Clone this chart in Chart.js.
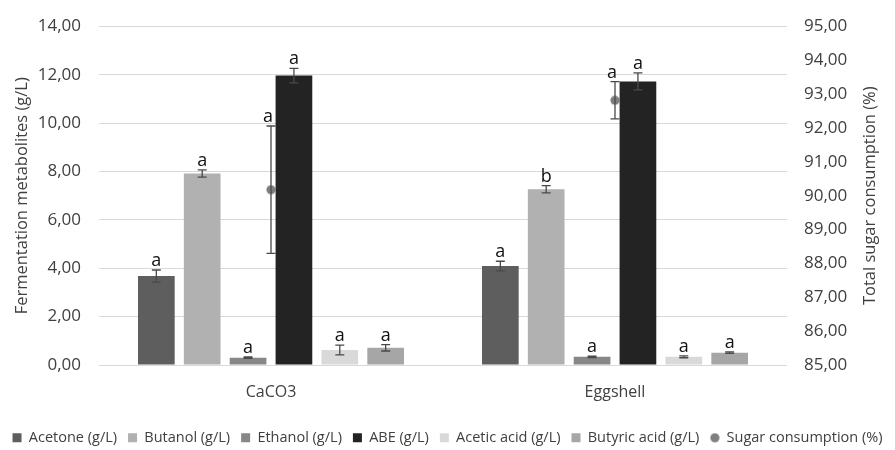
<!DOCTYPE html>
<html>
<head>
<meta charset="utf-8">
<script src="https://cdn.jsdelivr.net/npm/chart.js@4"></script>
<style>
html,body{margin:0;padding:0;background:#fff;}
#wrap{width:895px;height:450px;}
</style>
</head>
<body>
<div id="wrap"><canvas id="c" width="895" height="450"></canvas></div>
<script>
const categories = ['CaCO3', 'Eggshell'];
const acetone = [3.68, 4.09];
const acetoneErr = [0.25, 0.20];
const butanol = [7.92, 7.27];
const butanolErr = [0.15, 0.15];
const ethanol = [0.30, 0.34];
const ethanolErr = [0.03, 0.03];
const abe = [11.97, 11.73];
const abeErr = [0.30, 0.35];
const acetic = [0.62, 0.34];
const aceticErr = [0.20, 0.04];
const butyric = [0.71, 0.51];
const butyricErr = [0.13, 0.03];
const sugar = [90.18, 92.82];
const sugarErr = [1.88, 0.55];
const leftTicks = [0, 2, 4, 6, 8, 10, 12, 14];
const rightTicks = [85, 86, 87, 88, 89, 90, 91, 92, 93, 94, 95];
const acetoneLetters = ['a', 'a'];
const butanolLetters = ['a', 'b'];
const ethanolLetters = ['a', 'a'];
const abeLetters = ['a', 'a'];
const aceticLetters = ['a', 'a'];
const butyricLetters = ['a', 'a'];
const sugarLetters = ['a', 'a'];
const rightTitle = 'Total sugar consumption (%)';

const FONT = 'Open Sans';
const TXT = '#404040';

// point image for sugar consumption
const dot = document.createElement('canvas');
dot.width = 10; dot.height = 10;
(function(){const g = dot.getContext('2d'); g.fillStyle = '#7f7f7f'; g.beginPath(); g.arc(5,5,4.6,0,Math.PI*2); g.fill();})();

function fmt(v){ return Number(v).toFixed(2).replace('.', ','); }

const errPlugin = {
  id: 'errLetters',
  afterDatasetsDraw(chart) {
    const ctx = chart.ctx;
    ctx.save();
    chart.data.datasets.forEach((ds, i) => {
      const meta = chart.getDatasetMeta(i);
      const scale = chart.scales[ds.yAxisID || 'y'];
      meta.data.forEach((el, j) => {
        const v = ds.data[j], e = ds.errors[j];
        const x = el.x;
        const yT = scale.getPixelForValue(v + e);
        const yB = scale.getPixelForValue(v - e);
        ctx.strokeStyle = '#4a4a4a';
        ctx.lineWidth = 1.3;
        ctx.beginPath();
        ctx.moveTo(x, yT); ctx.lineTo(x, yB);
        ctx.moveTo(x - 4.5, yT); ctx.lineTo(x + 4.5, yT);
        ctx.moveTo(x - 4.5, yB); ctx.lineTo(x + 4.5, yB);
        ctx.stroke();
        ctx.fillStyle = '#111';
        ctx.font = '18px "' + FONT + '"';
        ctx.textAlign = 'center';
        ctx.textBaseline = 'alphabetic';
        const dx = ds.type === 'line' ? -3 : 0;
        ctx.fillText(ds.letters[j], x + dx, yT - 4);
      });
    });
    // right axis title, reading bottom to top
    const ca = chart.chartArea;
    ctx.save();
    ctx.translate(870, (ca.top + ca.bottom) / 2);
    ctx.rotate(-Math.PI / 2);
    ctx.fillStyle = TXT;
    ctx.font = '16.5px "' + FONT + '"';
    ctx.textAlign = 'center';
    ctx.textBaseline = 'middle';
    ctx.fillText(rightTitle, 0, 0);
    ctx.restore();
    ctx.restore();
  }
};

new Chart(document.getElementById('c'), {
  type: 'bar',
  data: {
    labels: categories,
    datasets: [
      {label: 'Acetone (g/L)', data: acetone, errors: acetoneErr, letters: acetoneLetters, backgroundColor: '#5e5e5e', pointStyle: 'rect', yAxisID: 'y'},
      {label: 'Butanol (g/L)', data: butanol, errors: butanolErr, letters: butanolLetters, backgroundColor: '#b1b1b1', pointStyle: 'rect', yAxisID: 'y'},
      {label: 'Ethanol (g/L)', data: ethanol, errors: ethanolErr, letters: ethanolLetters, backgroundColor: '#878787', pointStyle: 'rect', yAxisID: 'y'},
      {label: 'ABE (g/L)', data: abe, errors: abeErr, letters: abeLetters, backgroundColor: '#232323', pointStyle: 'rect', yAxisID: 'y'},
      {label: 'Acetic acid (g/L)', data: acetic, errors: aceticErr, letters: aceticLetters, backgroundColor: '#d9d9d9', pointStyle: 'rect', yAxisID: 'y'},
      {label: 'Butyric acid (g/L)', data: butyric, errors: butyricErr, letters: butyricLetters, backgroundColor: '#a6a6a6', pointStyle: 'rect', yAxisID: 'y'},
      {type: 'line', label: 'Sugar consumption (%)', data: sugar, errors: sugarErr, letters: sugarLetters, showLine: false, pointStyle: dot, backgroundColor: '#7f7f7f', borderColor: '#7f7f7f', yAxisID: 'y2'}
    ]
  },
  options: {
    responsive: false,
    animation: false,
    datasets: {bar: {barPercentage: 0.8, categoryPercentage: 0.8}},
    layout: {padding: {top: 0, left: 0, right: 0, bottom: -5}},
    plugins: {
      tooltip: {enabled: false},
      legend: {
        position: 'bottom',
        labels: {
          usePointStyle: true,
          boxWidth: 9, boxHeight: 9,
          padding: 11,
          color: TXT,
          font: {family: FONT, size: 14.5}
        }
      }
    },
    scales: {
      x: {
        grid: {display: false},
        border: {display: false},
        ticks: {color: TXT, font: {family: FONT, size: 16}, padding: 10},
        afterFit(s){ s.height = 54.5; }
      },
      y: {
        position: 'left',
        min: 0, max: 14,
        afterBuildTicks(s){ s.ticks = leftTicks.map(v => ({value: v})); },
        ticks: {color: TXT, font: {family: FONT, size: 17, lineHeight: 1}, padding: 18, callback: v => fmt(v)},
        grid: {color: '#d9d9d9', lineWidth: 1, drawTicks: false},
        border: {display: false},
        title: {display: true, text: 'Fermentation metabolites (g/L)', color: TXT, font: {family: FONT, size: 16.5}, padding: {top: 12, bottom: 0}},
        afterFit(s){ s.width = 99; }
      },
      y2: {
        position: 'right',
        min: 85, max: 95,
        afterBuildTicks(s){ s.ticks = rightTicks.map(v => ({value: v})); },
        ticks: {color: TXT, font: {family: FONT, size: 17, lineHeight: 1}, padding: 17, callback: v => fmt(v)},
        grid: {display: false, drawTicks: false},
        border: {display: false},
        title: {display: false},
        afterFit(s){ s.width = 108; }
      }
    }
  },
  plugins: [errPlugin]
});
</script>
</body>
</html>
